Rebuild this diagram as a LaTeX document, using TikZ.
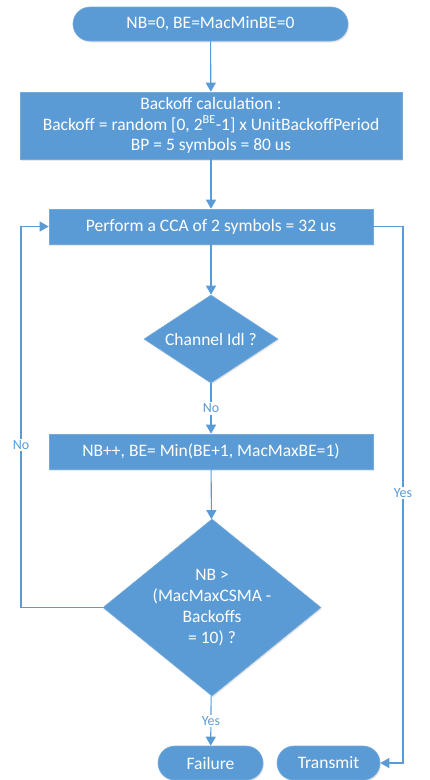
\documentclass[tikz,border=0pt]{standalone}
\usepackage{fontspec}
\setmainfont{Carlito}
\usetikzlibrary{arrows.meta,shapes.geometric,shadows}
\definecolor{ob}{HTML}{5B9BD5}
\begin{document}
\begin{tikzpicture}[x=1pt,y=-1pt,
  base/.style={fill=ob,draw=ob!85!white,line width=0.6pt,text=white,inner sep=0pt,
    font=\fontsize{17.5}{20.8}\selectfont,align=center,
    drop shadow={opacity=0.18,shadow xshift=1pt,shadow yshift=-1.5pt}},
  procbox/.style={base,rectangle},
  termbox/.style={base,rectangle,rounded corners=17pt},
  decbox/.style={base,diamond},
  arr/.style={draw=ob,line width=1.1pt,-{Triangle[width=10pt,length=9pt]}},
  lab/.style={fill=white,text=ob,inner sep=1.5pt,font=\fontsize{14}{15}\selectfont}]
\useasboundingbox (0,0) rectangle (429,780);
\node[termbox,minimum width=275pt,minimum height=34pt] (start) at (210.5,24) {NB=0, BE=MacMinBE=0};
\node[procbox,minimum width=382pt,minimum height=67pt] (backoff) at (211,125.5)
  {Backoff calculation :\\Backoff = random [0, 2\textsuperscript{BE}-1] x UnitBackoffPeriod\\BP = 5 symbols = 80 us};
\node[procbox,minimum width=324pt,minimum height=35pt] (cca) at (211,226.5) {Perform a CCA of 2 symbols = 32 us};
\node[decbox,aspect=1.52,minimum width=134pt,minimum height=88pt] (d1) at (211,339) {Channel Idl ?};
\node[procbox,minimum width=324pt,minimum height=35pt] (nb) at (211,451.5) {NB++, BE= Min(BE+1, MacMaxBE=1)};
\node[decbox,aspect=1.23,minimum width=218pt,minimum height=177pt] (d2) at (212,607.5) {NB >\\(MacMaxCSMA -\\Backoffs\\= 10) ?};
\node[termbox,minimum width=105pt,minimum height=34pt] (fail) at (210.5,763) {Failure};
\node[termbox,minimum width=103pt,minimum height=34pt] (trans) at (328.5,763) {Transmit};
\coordinate (lx) at (21,0);
\coordinate (rx) at (403,0);
\draw[arr] (start) -- (backoff);
\draw[arr] (backoff) -- (cca);
\draw[arr] (cca) -- (d1);
\draw[arr] (d1) -- node[lab]{No} (nb);
\draw[arr] (nb) -- (d2);
\draw[arr] (d2) -- node[lab,pos=0.5]{Yes} (fail);
\draw[arr] (d2.west) -- (lx|-d2.west) -- node[lab,pos=0.426]{No} (lx|-cca.west) -- (cca.west);
\draw[arr] (cca.east) -- (rx|-cca.east) -- node[lab,pos=0.496]{Yes} (rx|-trans.east) -- (trans.east);
\end{tikzpicture}
\end{document}
